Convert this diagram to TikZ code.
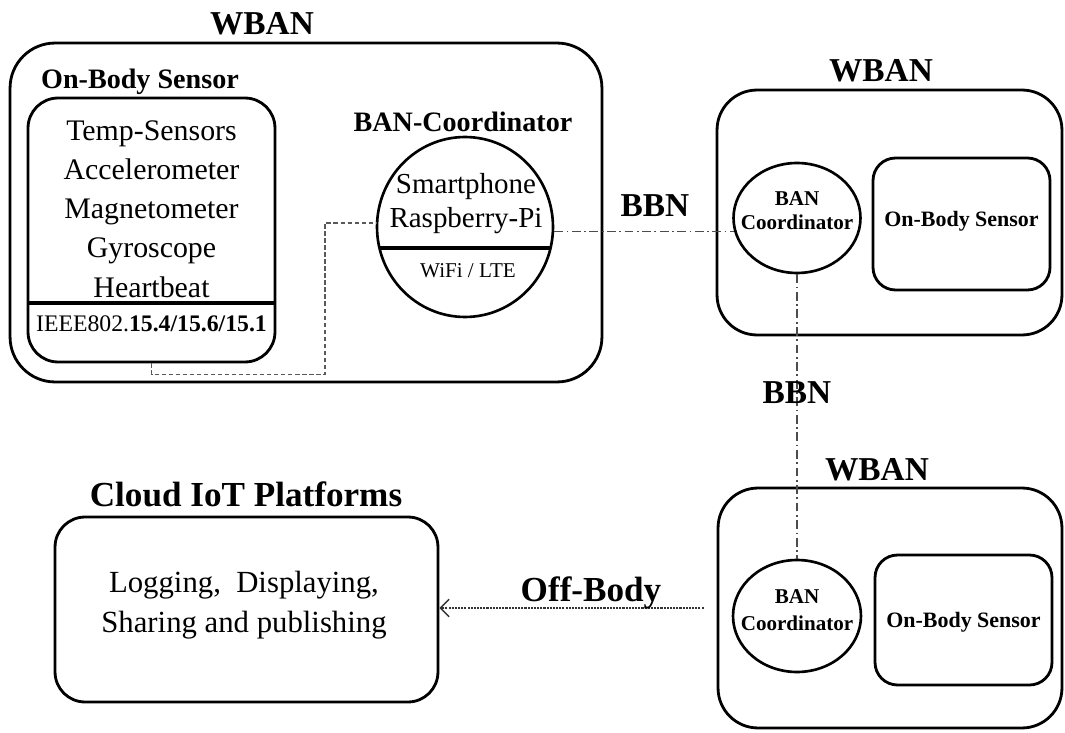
\documentclass[tikz,border=0pt]{standalone}
\usepackage{fontspec}
\setmainfont{Liberation Serif}
\usetikzlibrary{positioning,arrows.meta,shapes.geometric}
\tikzset{
  >=Stealth,
}

\begin{document}
\begin{tikzpicture}[
  x=0.02cm, y=-0.02cm,
  box/.style={draw, line width=1.6pt, rounded corners=#1},
  box/.default=0.6cm,
  coordi/.style={draw, ellipse, line width=1.5pt, inner sep=0pt},
  sepline/.style={line width=2.4pt},
  head/.style={font=\bfseries\fontsize{19}{23}\selectfont, inner sep=0pt, anchor=base},
  txt/.style={inner sep=0pt, anchor=base, align=center},
  linkdash/.style={draw=black!65, line width=0.8pt, dash pattern=on 2.5pt off 1.5pt},
  bbn/.style={draw=black!70, line width=0.8pt, dash pattern=on 5pt off 2pt on 1pt off 2pt},
  offbody/.style={draw=black!80, line width=0.8pt, dash pattern=on 1.2pt off 0.6pt, -{Straight Barb[length=5pt,width=10pt]}}
]
\useasboundingbox (0,0) rectangle (1065,733);

% first WBAN
\node[box=0.9cm, minimum width=11.84cm, minimum height=6.78cm] (wban1) at (306,212.5) {};
\node[head] (wbantxt1) at (262,35) {WBAN};
\node[box=0.6cm, minimum width=4.94cm, minimum height=5.28cm] (sensor1) at (151.5,230) {};
\node[txt, font=\bfseries\fontsize{16}{19}\selectfont] (sensortxt1) at (140,89) {On-Body Sensor};
% multi-line texts sit on the base of their last line
\node[txt, font=\fontsize{17}{22.3}\selectfont] (sensorlist) at (151.5,297) {Temp-Sensors\\Accelerometer\\Magnetometer\\Gyroscope\\Heartbeat};
\draw[sepline] (28,303) -- (275,303);
\node[txt, font=\fontsize{13.5}{16}\selectfont] (ieee) at (151.5,332) {IEEE802.\textbf{15.4/15.6/15.1}};

\node[coordi, minimum width=3.52cm, minimum height=3.6cm] (coord1) at (465,227) {};
\node[txt, font=\bfseries\fontsize{16}{19}\selectfont] (coordtxt1) at (463,132) {BAN-Coordinator};
\node[txt, font=\fontsize{16.5}{19.8}\selectfont] (device) at (466,228) {Smartphone\\Raspberry-Pi};
\draw[sepline] (379,248) -- (551,248);
\node[txt, font=\fontsize{12}{14}\selectfont] (radio) at (468,277) {WiFi / LTE};

% second WBAN
\node[box=0.8cm, minimum width=6.9cm, minimum height=4.9cm] (wban2) at (889.5,212.5) {};
\node[head] (wbantxt2) at (881,82) {WBAN};
\node[coordi, minimum width=2.54cm, minimum height=2.2cm] (coord2) at (797,218) {};
\node[txt, font=\bfseries\fontsize{12}{14.2}\selectfont] (coordtxt2) at (797,230) {BAN\\Coordinator};
\node[box=0.45cm, minimum width=3.54cm, minimum height=2.64cm] (sensor2) at (961.5,224) {};
\node[txt, font=\bfseries\fontsize{12.5}{15}\selectfont] (sensortxt2) at (961.5,227) {On-Body Sensor};

% third WBAN
\node[box=0.8cm, minimum width=6.88cm, minimum height=4.8cm] (wban3) at (890,608) {};
\node[head] (wbantxt3) at (877,480) {WBAN};
\node[coordi, minimum width=2.56cm, minimum height=2.24cm] (coord3) at (797,616) {};
\node[txt, font=\bfseries\fontsize{12}{15}\selectfont] (coordtxt3) at (797,630) {BAN\\Coordinator};
\node[box=0.45cm, minimum width=3.54cm, minimum height=2.6cm] (sensor3) at (963.5,620) {};
\node[txt, font=\bfseries\fontsize{12.5}{15}\selectfont] (sensortxt3) at (963.5,627) {On-Body Sensor};

% cloud
\node[box=0.6cm, minimum width=7.66cm, minimum height=3.7cm] (cloud) at (246.5,609.5) {};
\node[head, font=\bfseries\fontsize{20}{24}\selectfont] (cloudtxt) at (246,506) {Cloud IoT Platforms};
\node[txt, font=\fontsize{17.5}{22.3}\selectfont] (services) at (244,632) {Logging,~~Displaying,\\Sharing and publishing};

% links
\coordinate (bendpt) at (325,223);
\draw[linkdash] (sensor1.south) -- ++(0,11) -| (bendpt) -- (bendpt -| coord1.west);
\draw[bbn] (coord1.east |- coord2.192) -- (coord2.192);
\draw[bbn] (coord2.south) -- (coord3.north);
\node[head] (bbntxt1) at (655,217) {BBN};
\node[head] (bbntxt2) at (797,403) {BBN};
\draw[offbody] ([xshift=-0.26cm]wban3.west) -- (wban3.west -| cloud.east);
\node[head, font=\bfseries\fontsize{20}{24}\selectfont] (offtxt) at (591,601) {Off-Body};
\end{tikzpicture}
\end{document}
